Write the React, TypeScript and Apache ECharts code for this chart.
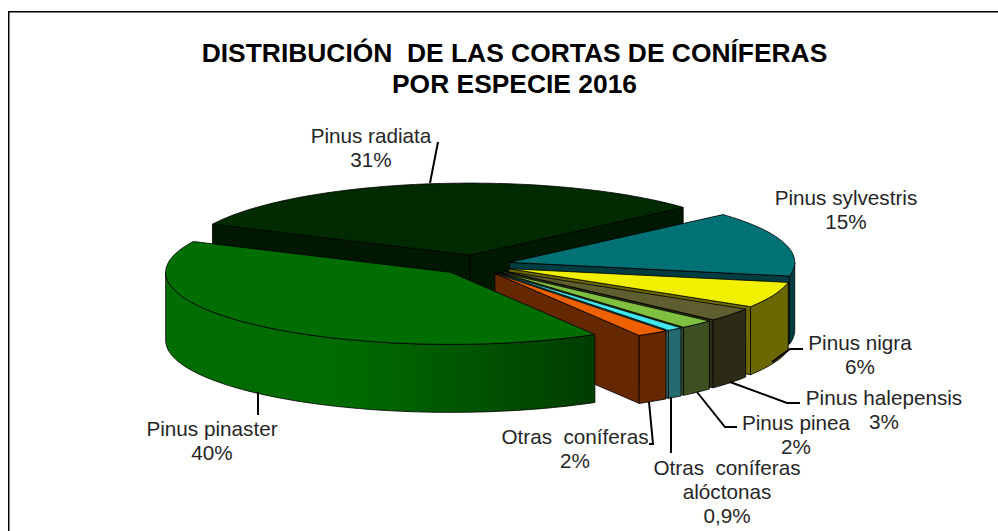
import React, { useEffect, useRef } from "react";
import * as echarts from "echarts";

const titleLines = ["DISTRIBUCIÓN  DE LAS CORTAS DE CONÍFERAS", "POR ESPECIE 2016"];
const species = ["Pinus radiata", "Pinus sylvestris", "Pinus nigra", "Pinus halepensis", "Pinus pinea", "Otras  coníferas alóctonas", "Otras  coníferas", "Pinus pinaster"];
const shares = [31.4, 14.6, 5.8, 3, 2, 0.9, 1.8, 40.5];
const shareLabels = ["31%", "15%", "6%", "3%", "2%", "0,9%", "2%", "40%"];
const topColors = ["#002a00", "#007276", "#f0f000", "#5e5e30", "#80c040", "#40e8f0", "#ee6000", "#006e00"];
const sideColors = ["#001800", "#003c40", "#6b6800", "#2c2c16", "#3c5020", "#246a70", "#662800", "#003c00"];

const labelTexts = [
  "Pinus radiata\n31%",
  "Pinus sylvestris\n15%",
  "Pinus nigra\n6%",
  "Pinus halepensis\n3%",
  "Pinus pinea\n2%",
  "Otras  coníferas\nalóctonas\n0,9%",
  "Otras  coníferas\n2%",
  "Pinus pinaster\n40%",
];
const labelCentres = [[371, 147], [846, 209], [860, 354], [884, 409], [796, 434], [727, 491], [575, 448], [212, 440]];
const leaders = [
  [[438, 142], [430, 183]],
  [],
  [[803, 349], [790, 349], [772, 362]],
  [[730, 382], [787, 403], [800, 403]],
  [[697, 392], [725, 427], [737, 427]],
  [[671, 397], [671, 453]],
  [[649, 402], [653, 444], [649, 444]],
  [[258, 392], [258, 415]],
];

const START = 205.4;
const CX = 475, CY = 265, RX = 285, RY = 72, DEPTH = 68, EX = 36, EY = 10;
const rad = (d: number) => (d * Math.PI) / 180;

function arc(cx: number, cy: number, t0: number, t1: number) {
  const pts: number[][] = [];
  const n = Math.max(2, Math.ceil((t1 - t0) / 1.5));
  for (let i = 0; i <= n; i++) {
    const t = rad(t0 + ((t1 - t0) * i) / n);
    pts.push([cx + RX * Math.cos(t), cy + RY * Math.sin(t)]);
  }
  return pts;
}

function renderSlice(params: any, api: any) {
  const i = params.dataIndex;
  const total = shares.reduce((a, b) => a + b, 0);
  const before = shares.slice(0, i).reduce((a, b) => a + b, 0);
  const t0 = START + (before / total) * 360;
  const t1 = t0 + (api.value(0) / total) * 360;
  const mid = rad((t0 + t1) / 2);
  const ax = CX + EX * Math.cos(mid);
  const ay = CY + EY * Math.sin(mid);
  const line = { stroke: "#000", lineWidth: 0.8, lineJoin: "round" };
  const children: any[] = [];
  const side = sideColors[i];

  const radial = (t: number) => {
    const p = [ax + RX * Math.cos(rad(t)), ay + RY * Math.sin(rad(t))];
    children.push({
      type: "polygon",
      shape: { points: [[ax, ay], p, [p[0], p[1] + DEPTH], [ax, ay + DEPTH]] },
      style: { fill: side, ...line },
    });
  };
  if (Math.cos(rad(t0)) < 0) radial(t0);
  if (Math.cos(rad(t1)) > 0) radial(t1);

  // outer rim: the part of the arc that faces the viewer
  const windows = [[0, 180], [360, 540]];
  for (const [w0, w1] of windows) {
    const a = Math.max(t0, w0), b = Math.min(t1, w1);
    if (b <= a) continue;
    const up = arc(ax, ay, a, b);
    const down = up.map((p) => [p[0], p[1] + DEPTH]).reverse();
    const fill =
      i === shares.length - 1
        ? new echarts.graphic.LinearGradient(
            160, 0, 600, 0,
            [
              { offset: 0, color: "#006e00" },
              { offset: 0.45, color: "#006a00" },
              { offset: 1, color: side },
            ],
            true
          )
        : side;
    children.push({
      type: "polygon",
      shape: { points: up.concat(down) },
      style: { fill, ...line },
    });
  }

  // top face
  children.push({
    type: "polygon",
    shape: { points: [[ax, ay], ...arc(ax, ay, t0, t1)] },
    style: { fill: topColors[i], ...line },
  });
  return { type: "group", children };
}

export default function App() {
  const ref = useRef<HTMLDivElement>(null);
  useEffect(() => {
    const chart = echarts.init(ref.current!, undefined, { renderer: "svg" });
    const font = "'Liberation Sans', Arial, sans-serif";
    chart.setOption({
      animation: false,
      backgroundColor: "#fff",
      title: {
        text: titleLines.join("\n"),
        left: 509.5,
        top: 32,
        textAlign: "center",
        textStyle: { fontFamily: font, fontSize: 26.4, fontWeight: "bold", color: "#000", lineHeight: 31 },
      },
      series: [
        {
          type: "custom",
          coordinateSystem: "none",
          renderItem: renderSlice,
          silent: true,
          z: 2,
          data: shares.map((v, i) => ({ name: species[i], value: [v], label: shareLabels[i] })),
        },
      ],
      graphic: [
        {
          type: "polyline",
          z: 0,
          shape: { points: [[8.75, 531], [8.75, 11.75], [998, 11.75]] },
          style: { stroke: "#000", lineWidth: 1.5, fill: "none" },
        },
        ...leaders
          .filter((l) => l.length)
          .map((points) => ({
            type: "polyline",
            z: 5,
            shape: { points },
            style: { stroke: "#000", lineWidth: 2, fill: "none" },
          })),
        ...labelTexts.map((text, i) => ({
          type: "text",
          z: 6,
          x: labelCentres[i][0],
          y: labelCentres[i][1],
          style: {
            text,
            textAlign: "center",
            textVerticalAlign: "middle",
            fontFamily: font,
            fontSize: 20.7,
            lineHeight: 24,
            fill: "#262626",
          },
        })),
      ],
    });
    return () => chart.dispose();
  }, []);
  return <div ref={ref} style={{ position: "absolute", left: 0, top: 0, width: 998, height: 531 }} />;
}
